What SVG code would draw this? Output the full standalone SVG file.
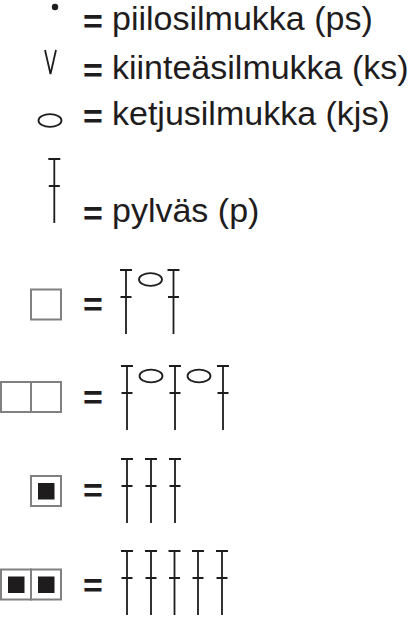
<svg xmlns="http://www.w3.org/2000/svg" xmlns:xlink="http://www.w3.org/1999/xlink" width="413" height="617" viewBox="0 0 413 617">
<style>
text{font-family:"Liberation Sans",Arial,sans-serif;font-size:34px;fill:#1e1c1d}
.eq{font-weight:bold}
.st{stroke:#1e1c1d;stroke-width:1.8;fill:none}
.ch{stroke:#1e1c1d;stroke-width:1.8;fill:none}
.sq{stroke:#808080;stroke-width:2;fill:#fff}
.in{fill:#1e1c1d}
</style>
<defs>
<path id="p" class="st" d="M-6,0H6M0,0V64M-5.5,27H5.5"/>
</defs>
<rect width="413" height="617" fill="#fff"/>
<g id="ps">
<circle cx="55" cy="7" r="3.2" fill="#1e1c1d"/>
<text class="eq" x="83" y="33">=</text>
<text x="112" y="30">piilosilmukka (ps)</text>
</g>
<g id="ks">
<polyline class="st" stroke-width="1.3" points="45,50 50.5,74 56,50"/>
<text class="eq" x="83" y="82">=</text>
<text x="112" y="79">kiinteäsilmukka (ks)</text>
</g>
<g id="kjs">
<ellipse class="ch" stroke-width="1.4" cx="50" cy="120.5" rx="11.5" ry="6.3"/>
<text class="eq" x="83" y="128">=</text>
<text x="112" y="125">ketjusilmukka (kjs)</text>
</g>
<g id="pylvas">
<use xlink:href="#p" x="54.3" y="159"/>
<text class="eq" x="83" y="225">=</text>
<text x="112" y="222">pylväs (p)</text>
</g>
<g id="row-empty1">
<rect class="sq" x="31" y="289.5" width="30" height="30"/>
<text class="eq" x="83" y="316">=</text>
<use xlink:href="#p" x="126" y="270"/>
<ellipse class="ch" cx="150.5" cy="279.5" rx="11.5" ry="6.3"/>
<use xlink:href="#p" x="173.5" y="270"/>
</g>
<g id="row-empty2">
<rect class="sq" x="1" y="382" width="30" height="30"/>
<rect class="sq" x="31" y="382" width="30" height="30"/>
<text class="eq" x="83" y="409">=</text>
<use xlink:href="#p" x="127" y="366"/>
<ellipse class="ch" cx="151" cy="376" rx="11.5" ry="6.3"/>
<use xlink:href="#p" x="175" y="366"/>
<ellipse class="ch" cx="199" cy="376" rx="11.5" ry="6.3"/>
<use xlink:href="#p" x="223" y="366"/>
</g>
<g id="row-filled1">
<rect class="sq" x="31" y="476" width="30" height="30"/>
<rect class="in" x="38" y="483" width="16.5" height="16.5"/>
<text class="eq" x="83" y="502">=</text>
<use xlink:href="#p" x="127" y="459"/>
<use xlink:href="#p" x="151" y="459"/>
<use xlink:href="#p" x="175" y="459"/>
</g>
<g id="row-filled2">
<rect class="sq" x="1" y="569.5" width="30" height="30"/>
<rect class="sq" x="31" y="569.5" width="30" height="30"/>
<rect class="in" x="8" y="576.5" width="16.5" height="16.5"/>
<rect class="in" x="38" y="576.5" width="16.5" height="16.5"/>
<text class="eq" x="83" y="597">=</text>
<use xlink:href="#p" x="127" y="551"/>
<use xlink:href="#p" x="151" y="551"/>
<use xlink:href="#p" x="174.5" y="551"/>
<use xlink:href="#p" x="198" y="551"/>
<use xlink:href="#p" x="222" y="551"/>
</g>
<g id="connectors"/>
</svg>
